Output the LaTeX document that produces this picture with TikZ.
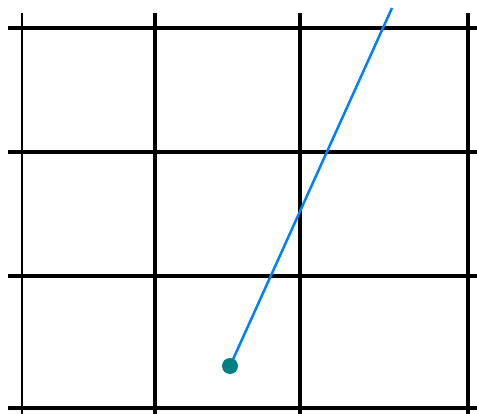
\documentclass[tikz,border=0pt]{standalone}
\begin{document}
\begin{tikzpicture}[x=1pt,y=-1pt,
  gridline/.style={line width=3.2pt,black},
  thingrid/.style={line width=2.2pt,black},
  ray/.style={line width=2.5pt,color={rgb,255:red,0;green,128;blue,255}},
  dotstyle/.style={circle,inner sep=0pt,minimum size=16pt,fill={rgb,255:red,0;green,128;blue,128}}]
\useasboundingbox (0,0) rectangle (477,414);
\fill[white] (0,0) rectangle (477,414);
% horizontal lines
\foreach \y in {28,152,276,408} \draw[gridline] (8,\y) -- (477,\y);
% vertical lines
\draw[thingrid] (22,13) -- (22,414);
\foreach \x in {155,300,468} \draw[gridline] (\x,13) -- (\x,414);
\coordinate (top) at (392,8);
\coordinate (c) at (230,366);
\draw[ray] (c) -- (top);
\node[dotstyle] (dot) at (c) {};
\end{tikzpicture}
\end{document}
